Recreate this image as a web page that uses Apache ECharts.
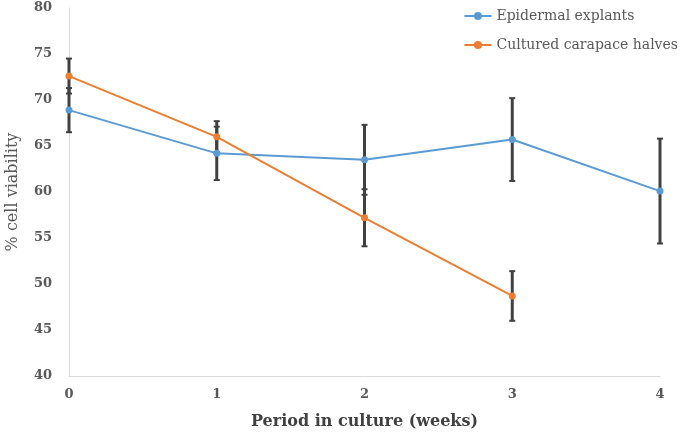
<!DOCTYPE html>
<html><head><meta charset="utf-8">
<script src="https://cdn.jsdelivr.net/npm/echarts@6/dist/echarts.min.js"></script>
<style>html,body{margin:0;padding:0;background:#fff}#c{width:685px;height:438px}</style>
</head><body><div id="c"></div>
<script>
const weeks = [0, 1, 2, 3, 4];
const epidermalMean = [68.9, 64.2, 63.5, 65.7, 60.1];
const epidermalErr = [2.4, 2.9, 3.8, 4.5, 5.7];
const carapaceMean = [72.6, 66.0, 57.2, 48.7];
const carapaceErr = [1.9, 1.7, 3.1, 2.7];
const yTicks = [40, 45, 50, 55, 60, 65, 70, 75, 80];

function errData(mean, err) {
  return mean.map((m, i) => [weeks[i], m - err[i], m + err[i]]);
}
function errRender(params, api) {
  const x = api.value(0);
  const lo = api.coord([x, api.value(1)]);
  const hi = api.coord([x, api.value(2)]);
  const w = 3;
  const st = { stroke: '#404040', lineWidth: 3 };
  return { type: 'group', children: [
    { type: 'line', shape: { x1: lo[0], y1: lo[1], x2: hi[0], y2: hi[1] }, style: st },
    { type: 'line', shape: { x1: lo[0] - w, y1: lo[1], x2: lo[0] + w, y2: lo[1] }, style: { stroke: '#404040', lineWidth: 2 } },
    { type: 'line', shape: { x1: hi[0] - w, y1: hi[1], x2: hi[0] + w, y2: hi[1] }, style: { stroke: '#404040', lineWidth: 2 } }
  ]};
}
const font = '"DejaVu Serif", "Liberation Serif", serif';
const chart = echarts.init(document.getElementById('c'));
chart.setOption({
  animation: false,
  textStyle: { fontFamily: font },
  grid: { left: 69, right: 25, top: 8, bottom: 62, containLabel: false, outerBoundsMode: 'none' },
  legend: {
    orient: 'vertical', right: 2, top: 4, itemGap: 15,
    itemWidth: 27, itemHeight: 10,
    textStyle: { fontFamily: font, fontSize: 14, color: '#595959' },
    data: ['Epidermal explants', 'Cultured carapace halves']
  },
  xAxis: {
    type: 'value', min: 0, max: 4, interval: 1,
    name: 'Period in culture (weeks)', nameLocation: 'middle', nameGap: 38,
    nameTextStyle: { fontFamily: font, fontSize: 16, fontWeight: 'bold', color: '#404040' },
    axisLine: { lineStyle: { color: '#d9d9d9', width: 1 } },
    axisTick: { show: false }, splitLine: { show: false },
    axisLabel: { margin: 12, fontSize: 13, fontWeight: 'bold', color: '#595959', fontFamily: font }
  },
  yAxis: {
    type: 'value', min: 40, max: 80, interval: 5,
    name: '% cell viability', nameLocation: 'middle', nameGap: 48,
    nameTextStyle: { fontFamily: font, fontSize: 16, color: '#595959' },
    axisLine: { show: true, lineStyle: { color: '#d9d9d9', width: 1 } },
    axisTick: { show: false }, splitLine: { show: false },
    axisLabel: { margin: 17, fontSize: 13, fontWeight: 'bold', color: '#595959', fontFamily: font,
      formatter: v => yTicks.includes(v) ? String(v) : '' }
  },
  series: [
    { type: 'custom', renderItem: errRender, data: errData(epidermalMean, epidermalErr), z: 1, encode: { x: 0, y: [1, 2] }, silent: true },
    { type: 'custom', renderItem: errRender, data: errData(carapaceMean, carapaceErr), z: 1, encode: { x: 0, y: [1, 2] }, silent: true },
    { name: 'Epidermal explants', type: 'line', z: 3,
      data: epidermalMean.map((v, i) => [weeks[i], v]),
      symbol: 'circle', symbolSize: 7,
      lineStyle: { color: '#5B9BD5', width: 2 }, itemStyle: { color: '#5B9BD5' } },
    { name: 'Cultured carapace halves', type: 'line', z: 3,
      data: carapaceMean.map((v, i) => [weeks[i], v]),
      symbol: 'circle', symbolSize: 7,
      lineStyle: { color: '#ED7D31', width: 2 }, itemStyle: { color: '#ED7D31' } }
  ]
});
</script></body></html>
